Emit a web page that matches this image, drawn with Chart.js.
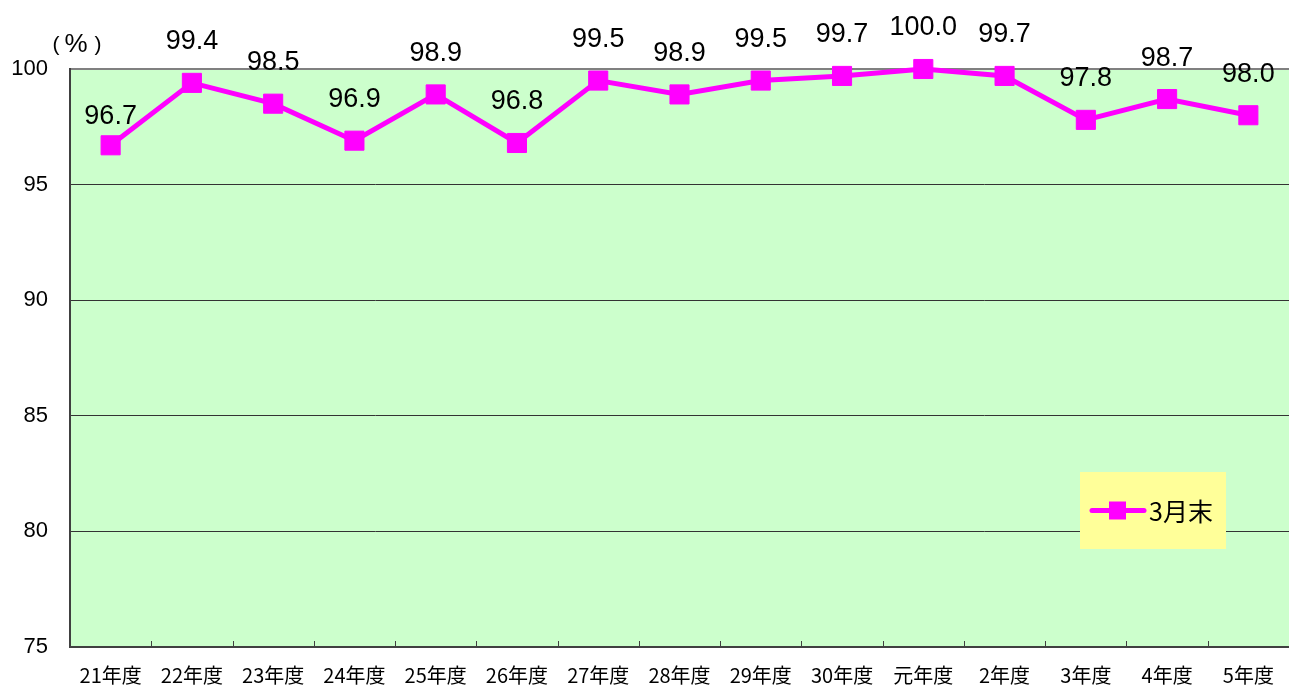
<!DOCTYPE html>
<html lang="ja">
<head>
<meta charset="utf-8">
<title>3月末</title>
<script src="https://cdn.jsdelivr.net/npm/chart.js@4.4.1/dist/chart.umd.min.js"></script>
<style>
  html, body { margin: 0; padding: 0; background: #fff; overflow: hidden; }
  #wrap { width: 1289px; height: 685px; position: relative; }
  canvas { display: block; }
</style>
</head>
<body>
<div id="wrap"><canvas id="myChart"></canvas></div>
<script>
// 年度ごとの値（%）
const categories = ["21年度", "22年度", "23年度", "24年度", "25年度", "26年度", "27年度", "28年度",
  "29年度", "30年度", "元年度", "2年度", "3年度", "4年度", "5年度"];
const seriesName = "3月末";
const values = [96.7, 99.4, 98.5, 96.9, 98.9, 96.8, 99.5, 98.9, 99.5, 99.7, 100.0, 99.7, 97.8, 98.7, 98.0];
const yTicks = [75, 80, 85, 90, 95, 100];

const LINE_COLOR = "#ff00ff";
const NUM_FONT = '"Liberation Sans", Arial, sans-serif';
const JP_FONT = '"Noto Sans CJK JP", "Noto Sans", sans-serif';

// 背景（プロットエリアの薄い緑）
const plotBg = {
  id: "plotBg",
  beforeDraw(chart) {
    const { ctx, chartArea: a } = chart;
    ctx.save();
    ctx.fillStyle = "#ccffcc";
    ctx.fillRect(a.left, a.top, a.right - a.left, a.bottom - a.top);
    ctx.restore();
  },
};

// 下の軸の内向き目盛り、単位、データラベル、凡例
const extras = {
  id: "extras",
  afterDatasetsDraw(chart) {
    const { ctx, chartArea: a, scales } = chart;
    const x = scales.x;
    ctx.save();

    // 目盛り（カテゴリの境目）
    ctx.strokeStyle = "#404040";
    ctx.lineWidth = 1;
    for (let i = 1; i < categories.length; i++) {
      const px = Math.round((x.getPixelForValue(i - 1) + x.getPixelForValue(i)) / 2) + 0.5;
      ctx.beginPath();
      ctx.moveTo(px, a.bottom);
      ctx.lineTo(px, a.bottom - 6);
      ctx.stroke();
    }

    // データラベル
    const meta = chart.getDatasetMeta(0);
    ctx.fillStyle = "#000";
    ctx.font = "27px " + NUM_FONT;
    ctx.textAlign = "center";
    ctx.textBaseline = "middle";
    meta.data.forEach((pt, i) => {
      const off = i === 0 ? 29 : 41;
      ctx.fillText(values[i].toFixed(1), pt.x, pt.y - off);
    });

    // 単位（全角括弧の間隔を再現）
    const uy = a.top - 24;
    ctx.font = "21px " + NUM_FONT;
    ctx.fillText("(", a.left - 14, uy);
    ctx.fillText(")", a.left + 28, uy);
    ctx.font = "26px " + NUM_FONT;
    ctx.fillText("%", a.left + 6, uy);

    // 凡例
    const bx = a.right - 209, by = a.top + 403, bw = 146, bh = 77;
    ctx.fillStyle = "#ffff99";
    ctx.fillRect(bx, by, bw, bh);
    const ly = by + bh / 2;
    ctx.strokeStyle = LINE_COLOR;
    ctx.lineWidth = 5;
    ctx.lineCap = "round";
    ctx.beginPath();
    ctx.moveTo(bx + 12, ly);
    ctx.lineTo(bx + 64, ly);
    ctx.stroke();
    ctx.fillStyle = LINE_COLOR;
    ctx.fillRect(bx + 29, ly - 9, 17, 18);
    ctx.fillStyle = "#000";
    ctx.textAlign = "left";
    ctx.font = "25px " + JP_FONT;
    ctx.fillText(seriesName, bx + 69, ly + 1);

    ctx.restore();
  },
};

const canvas = document.getElementById("myChart");
const ctx = canvas.getContext("2d");

new Chart(ctx, {
  type: "line",
  data: {
    labels: categories,
    datasets: [
      {
        label: seriesName,
        data: values,
        borderColor: LINE_COLOR,
        backgroundColor: LINE_COLOR,
        borderWidth: 5,
        tension: 0,
        fill: false,
        pointStyle: "rect",
        pointRadius: 13.5,
        pointBorderWidth: 1,
        pointBackgroundColor: LINE_COLOR,
        pointBorderColor: LINE_COLOR,
        clip: false,
      },
    ],
  },
  options: {
    responsive: true,
    maintainAspectRatio: false,
    animation: false,
    events: [],
    layout: { autoPadding: false, padding: { top: 69, left: 0, right: 0, bottom: 0 } },
    plugins: {
      legend: { display: false },
      tooltip: { enabled: false },
    },
    scales: {
      x: {
        offset: true,
        afterFit(scale) {
          scale.height = 38;
          scale.paddingLeft = 0;
          scale.paddingRight = 0;
        },
        grid: { display: false, drawTicks: false, tickLength: 0 },
        border: { display: true, color: "#404040", width: 2 },
        ticks: {
          color: "#000",
          font: { family: JP_FONT, size: 20 },
          padding: 16,
          maxRotation: 0,
          autoSkip: false,
        },
      },
      y: {
        min: yTicks[0],
        max: yTicks[yTicks.length - 1],
        afterFit(scale) { scale.width = 70; },
        afterBuildTicks(scale) { scale.ticks = yTicks.map((v) => ({ value: v })); },
        grid: {
          drawTicks: false,
          tickLength: 0,
          color: (c) => (c.tick && c.tick.value === 100 ? "#808080" : "#333333"),
          lineWidth: (c) => (c.tick && c.tick.value === 100 ? 2 : 1),
        },
        border: { display: true, color: "#404040", width: 2 },
        ticks: {
          color: "#000",
          font: { family: NUM_FONT, size: 22 },
          padding: 22,
        },
      },
    },
  },
  plugins: [plotBg, extras],
});
</script>
</body>
</html>
